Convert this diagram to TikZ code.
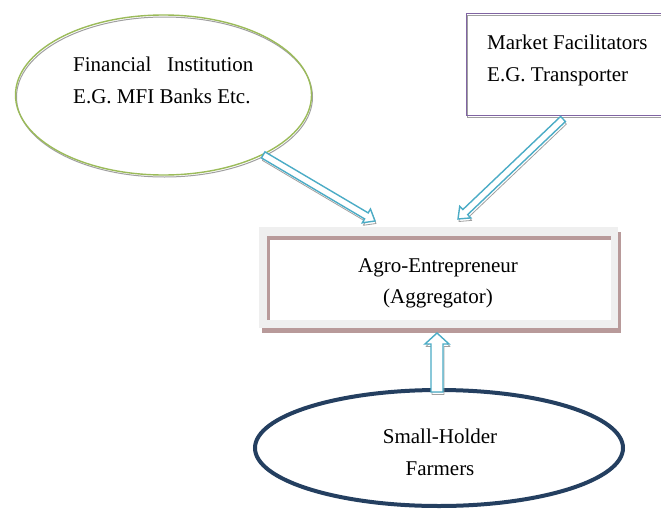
\documentclass[tikz,border=0pt]{standalone}
\usepackage{fontspec}
\setmainfont{Liberation Serif}
\usetikzlibrary{calc,shapes.geometric}
\definecolor{fingreen}{HTML}{9BBB59}
\definecolor{mktpurple}{HTML}{8064A2}
\definecolor{arrcyan}{HTML}{4BACC6}
\definecolor{farmnavy}{HTML}{243F60}
\definecolor{boxbrown}{HTML}{B89A9A}
\definecolor{framegray}{HTML}{EFEFEF}
\definecolor{shadowgray}{HTML}{A0A0A0}
% hollow block arrow: from, to, shaft half width, head half width, head length
\newcommand{\blockarrowpath}[5]{($(#1)!#3!90:(#2)$) -- ($($(#2)!#5!(#1)$)!#3!90:(#2)$) -- ($($(#2)!#5!(#1)$)!#4!90:(#2)$) -- (#2) -- ($($(#2)!#5!(#1)$)!#4!-90:(#2)$) -- ($($(#2)!#5!(#1)$)!#3!-90:(#2)$) -- ($(#1)!#3!-90:(#2)$) -- cycle}
\newcommand{\blockarrow}[5]{%
  \draw[arrshadow] \blockarrowpath{#1}{#2}{#3}{#4}{#5};
  \draw[arrbody] \blockarrowpath{#1}{#2}{#3}{#4}{#5};}
\tikzset{
  txt/.style={font=\fontsize{21}{25}\selectfont, inner sep=0pt},
  arrshadow/.style={draw=shadowgray, line width=0.8pt, line join=round, transform canvas={shift={(1pt,-2.5pt)}}},
  arrbody/.style={draw=arrcyan, fill=white, line width=1.4pt, line join=miter},
  shadowline/.style={draw=shadowgray, line width=1pt, transform canvas={shift={(1pt,-2pt)}}},
}
\begin{document}
\begin{tikzpicture}[x=1pt,y=-1pt]
\useasboundingbox (0,0) rectangle (661,514);
\fill[white] (0,0) rectangle (661,514);

% Financial institution ellipse
\draw[shadowline] (163.5,95) ellipse [x radius=148, y radius=80];
\node[ellipse, draw=fingreen, line width=1.4pt, minimum width=296pt, minimum height=160pt, inner sep=0pt] (fin) at (163.5,95) {};
\node[txt, anchor=base west] (fin1) at (73,71) {Financial\ \ \ Institution};
\node[txt, anchor=base west] (fin2) at (73,103) {E.G. MFI Banks Etc.};

% Market facilitators box
\draw[shadowline] (466,13) rectangle (668,115);
\node[draw=mktpurple, line width=1.4pt, anchor=north west, minimum width=202pt, minimum height=102pt, inner sep=0pt] (mkt) at (466,13) {};
\node[txt, anchor=base west] (mkt1) at (487,49) {Market Facilitators};
\node[txt, anchor=base west] (mkt2) at (487,81) {E.G. Transporter};

% Agro-entrepreneur box
\fill[boxbrown] (262,232) rectangle (621,333);
\node[fill=framegray, anchor=north west, minimum width=359pt, minimum height=101pt, inner sep=0pt] (agro) at (259,227) {};
\fill[boxbrown] (267,236) rectangle (611,320);
\fill[white] (270,240) rectangle (611,320);
\node[txt, anchor=base] (agro1) at (438,272) {Agro-Entrepreneur};
\node[txt, anchor=base] (agro2) at (438,303) {(Aggregator)};

% Small-holder farmers ellipse
\node[ellipse, draw=farmnavy, line width=4pt, minimum width=368pt, minimum height=116pt, inner sep=0pt] (farm) at (439,448) {};
\node[txt, anchor=base] (farm1) at (440,443) {Small-Holder};
\node[txt, anchor=base] (farm2) at (440,475) {Farmers};

% arrow end points
\coordinate (a1s) at (fin.-31);
\coordinate (a1e) at (375,221);
\coordinate (a2s) at (563,119);
\coordinate (a2e) at (458,219);
\coordinate (a3s) at (437,392);
\coordinate (a3e) at (437,333);

\blockarrow{a1s}{a1e}{3.5pt}{8pt}{10pt}
\blockarrow{a2s}{a2e}{3.5pt}{8pt}{10pt}
\blockarrow{a3s}{a3e}{6pt}{12pt}{11pt}
\end{tikzpicture}
\end{document}
